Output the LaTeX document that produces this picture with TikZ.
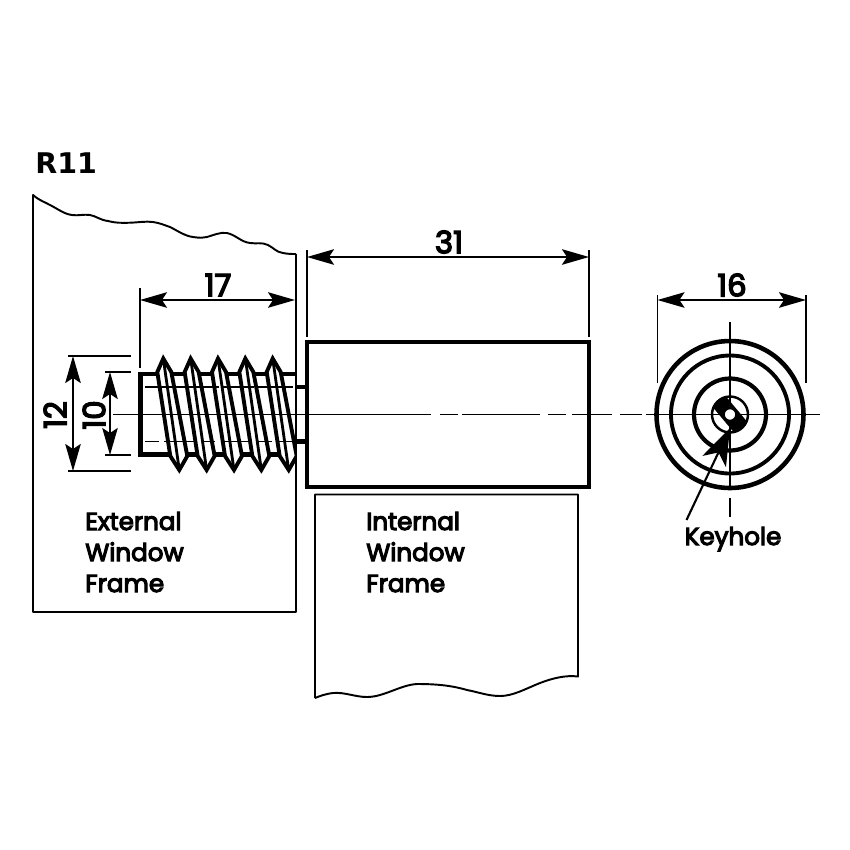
\documentclass[tikz,border=0pt]{standalone}
\usepackage{fontspec}
\setmainfont{Poppins}[FakeBold=4.5]
\newfontfamily\headfont{DejaVu Sans}
\usetikzlibrary{arrows.meta}
\begin{document}
\begin{tikzpicture}[x=0.02cm, y=-0.02cm, > = {Stealth[length=0.54cm, width=0.31cm, inset=0.1cm]}]
    \tikzset{
      frameline/.style={line width=1.1pt, line join=round},
      thickline/.style={line width=2.3pt, line join=miter},
      thinline/.style={line width=0.9pt},
      dimline/.style={<->, line width=1pt},
      extline/.style={line width=0.9pt},
      threadband/.style={draw, fill=white, line width=2.2pt, line join=miter},
      lbl/.style={font=\fontsize{14}{17}\selectfont, inner sep=0pt, anchor=base west},
      dimlbl/.style={font=\fontsize{17.5}{20}\selectfont, inner sep=0pt},
    }
    \useasboundingbox (0,0) rectangle (850,850);

    % screw body
    \draw[thickline] (295,374) -- (140.5,374) -- (140.5,454.5) -- (295,454.5);
    \begin{scope}
      \clip (130,340) rectangle (296,480);
      \foreach \t in {163.3,190.65,218,245.35,272.7} {
        \begin{scope}[shift={(\t,0)}]
          \draw[threadband] (0,358.5) -- (-6,372) -- (7,456) -- (16,470) -- (24,456) -- (8,372) -- cycle;
          \draw[line width=1.6pt] (0,358.5) -- (16,470);
        \end{scope}
      }
    \end{scope}
    \draw[thickline] (296,387) -- (307,387);
    \draw[thickline] (296,441.5) -- (307,441.5);
    \draw[thinline, dash pattern=on 42pt off 2pt on 18pt off 2pt] (145,387) -- (293,387);
    \draw[thinline, dash pattern=on 8pt off 3pt on 18pt off 3pt] (145,441.5) -- (293,441.5);

    % frames
    \draw[frameline] (296,254) -- (296,612) -- (33,612) -- (33,195)
      .. controls (40,201) and (45,202) .. (50,205)
      .. controls (58,209) and (64,214) .. (72,215)
      .. controls (78,216) and (84,214) .. (90,215)
      .. controls (96,216) and (100,220) .. (108,221)
      .. controls (115,223) and (122,223) .. (130,222.7)
      .. controls (138,222.5) and (146,221) .. (153,222)
      .. controls (160,223) and (164,225) .. (170,227)
      .. controls (178,231) and (185,236) .. (193,237)
      .. controls (200,238) and (203,238) .. (207,237)
      .. controls (214,235) and (220,232) .. (227,233)
      .. controls (236,235) and (241,242) .. (250,243)
      .. controls (256,244) and (262,242) .. (268,245)
      .. controls (274,248) and (276,252) .. (283,253)
      .. controls (288,254) and (292,254) .. (296,254);
    \draw[frameline] (315,698) -- (315,494.5) -- (578,494.5) -- (578,676.5)
      .. controls (566,675) and (553,678) .. (540,683)
      .. controls (525,689) and (513,696) .. (500,696)
      .. controls (488,696) and (478,692) .. (467,690)
      .. controls (450,685) and (434,684) .. (417,684)
      .. controls (400,685) and (384,697) .. (367,697)
      .. controls (355,697) and (345,692) .. (333,693)
      .. controls (325,694) and (320,696) .. (315,698);

    % inner unit
    \draw[thickline, line width=2.6pt] (307,342) rectangle (589,487);

    % centre lines
    \foreach \a/\b in {113/431,440/458,462/540,548/566,572/612,620/642,646/820}
      \draw[thinline] (\a,414.5) -- (\b,414.5);

    % lock face
    \coordinate (lock) at (730,414.5);
    \draw[line width=2.6pt] (lock) circle [radius=73.5];
    \draw[line width=2.2pt] (lock) circle [radius=59];
    \draw[line width=2.4pt] (lock) circle [radius=36];
    \draw[line width=1.4pt] (lock) circle [radius=18];
    \begin{scope}
      \clip (lock) circle [radius=18];
      \fill[rotate around={-50:(lock)}] (710,406) rectangle (750,423);
    \end{scope}
    \draw[thinline] (730,322) -- (730,490);
    \draw[thinline] (730,498) -- (730,517);
    \draw[thinline, fill=white] (lock) circle [radius=6];

    % dimensions
    \coordinate (a17) at (140,300);
    \coordinate (b17) at (295,300);
    \coordinate (a31) at (307,257);
    \coordinate (b31) at (589,257);
    \coordinate (a16) at (657.5,300);
    \coordinate (b16) at (806,300);
    \coordinate (a12) at (73,356);
    \coordinate (b12) at (73,471);
    \coordinate (a10) at (110,372);
    \coordinate (b10) at (110,455);

    \path[dimline] (a17) edge (b17);
    \path[dimline] (a31) edge (b31);
    \path[dimline] (a16) edge (b16);
    \path[dimline] (a12) edge (b12);
    \path[dimline] (a10) edge (b10);

    \node[dimlbl] (n17) at (218,285) {17};
    \node[dimlbl] (n31) at (449,242) {31};
    \node[dimlbl] (n16) at (732,285) {16};
    \node[dimlbl, rotate=90] (n12) at (55,415) {12};
    \node[dimlbl, rotate=90] (n10) at (94,415) {10};

    \draw[extline] (140,288) -- (140,368);
    \draw[extline] (307,250) -- (307,337);
    \draw[extline] (589,250) -- (589,337);
    \draw[extline] (657.5,295) -- (657.5,383);
    \draw[extline] (806,295) -- (806,383);
    \draw[extline] (68,356) -- (131,356);
    \draw[extline] (68,471) -- (131,471);
    \draw[extline] (105,372) -- (131,372);
    \draw[extline] (105,455) -- (131,455);

    % labels
    \node[anchor=base west, inner sep=0pt, font=\headfont\bfseries\fontsize{16.2}{20}\selectfont] (title) at (35,173) {R11};
    \node[lbl] (ext1) at (85,530) {External};
    \node[lbl] (ext2) at (85,561) {Window};
    \node[lbl] (ext3) at (85,592) {Frame};
    \node[lbl] (int1) at (366,530) {Internal};
    \node[lbl] (int2) at (366,561) {Window};
    \node[lbl] (int3) at (366,592) {Frame};
    \node[lbl, anchor=base] (key) at (733,545) {Keyhole};
    \coordinate (keytail) at (686.5,520);
    \coordinate (keytip) at (730,428);
    \draw[->, line width=1.2pt, >={Stealth[length=0.74cm, width=0.52cm, inset=0.2cm]}] (keytail) -- (keytip);

\end{tikzpicture}
\end{document}
